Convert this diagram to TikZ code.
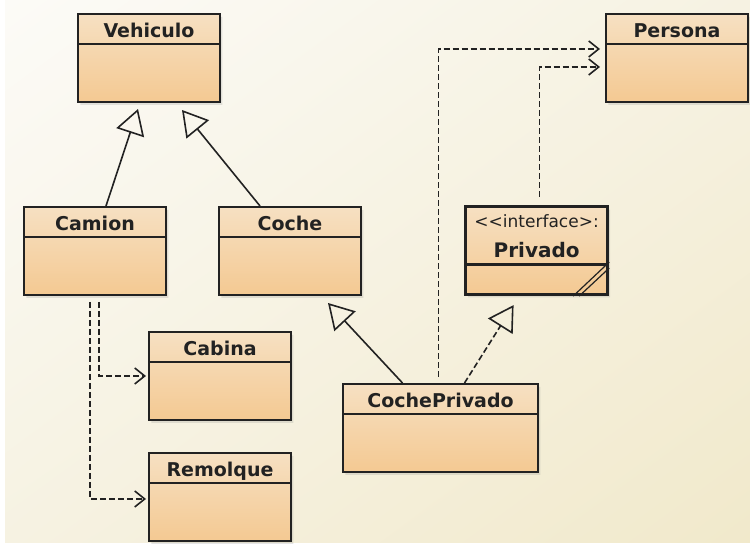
\documentclass[tikz,border=0pt]{standalone}
\usepackage{fontspec}
\usepackage{tikz}
\usepackage{xcolor}
\usetikzlibrary{arrows.meta,shapes.multipart,shadows,shadings}

\newfontfamily\clasefont{DejaVu Sans}
\definecolor{cajaarriba}{RGB}{246,224,194}
\definecolor{cajaabajo}{RGB}{244,201,146}
\definecolor{fondoA}{RGB}{252,251,247}
\definecolor{fondoB}{RGB}{241,233,203}
\definecolor{fondoM}{RGB}{246,242,226}
\definecolor{linea}{RGB}{34,34,34}

\newcommand{\titulo}[1]{\rule[-2.75pt]{0pt}{14pt}#1}
\newcommand{\cuerpo}{\rule{0pt}{28pt}}

\begin{document}
\begin{tikzpicture}[x=0.5pt,y=-0.5pt,
    clase/.style={rectangle split, rectangle split parts=2, draw=linea, line width=1pt,
        top color=cajaarriba, bottom color=cajaabajo, anchor=north west,
        text width=#1, align=center, inner xsep=3pt, inner ysep=0pt, text=linea,
        font=\clasefont\bfseries\fontsize{9.5}{11}\selectfont,
        drop shadow={opacity=0.2, shadow xshift=1.2pt, shadow yshift=-1.5pt}},
    clase/.default=65pt,
    hereda/.style={draw=linea, line width=0.8pt, -{Triangle[open, length=12.5pt, width=14.5pt]}},
    realiza/.style={hereda, dash pattern=on 3pt off 1.5pt},
    usa/.style={draw=linea, line width=0.8pt, dash pattern=on 3pt off 1.5pt,
        -{Straight Barb[length=5pt, width=8pt]}}]

    \useasboundingbox (0,0) rectangle (750,549);
    \fill[white] (0,0) rectangle (750,549);
    \shade[upper left=fondoA, upper right=fondoM, lower left=fondoM, lower right=fondoB]
        (5,0) rectangle (750,543);

    \node[clase] (Vehiculo) at (77,13) {\titulo{Vehiculo}\nodepart{second}\cuerpo};
    \node[clase] (Persona) at (605,13) {\titulo{Persona}\nodepart{second}\cuerpo};
    \node[clase] (Camion) at (23,206) {\titulo{Camion}\nodepart{second}\cuerpo};
    \node[clase] (Coche) at (218,206) {\titulo{Coche}\nodepart{second}\cuerpo};
    \node[clase, line width=1.6pt] (Privado) at (464,205)
        {\rule[-2.75pt]{0pt}{27.25pt}%
         \makebox[0pt]{\raisebox{14.8pt}[0pt][0pt]{\fontsize{8.5}{10}\selectfont\mdseries <{}<interface>:}}%
         \makebox[0pt]{\fontsize{10}{12}\selectfont Privado}%
         \nodepart{second}\rule{0pt}{13.5pt}};
    \node[clase] (Cabina) at (148,331) {\titulo{Cabina}\nodepart{second}\cuerpo};
    \node[clase] (Remolque) at (148,452) {\titulo{Remolque}\nodepart{second}\cuerpo};
    \node[clase=91.5pt] (CochePrivado) at (342,383) {\titulo{CochePrivado}\nodepart{second}\cuerpo};

    % marca de interfaz
    \draw[linea, line width=0.6pt] ([xshift=-18pt]Privado.south east) -- ([yshift=17pt]Privado.south east);
    \draw[linea, line width=0.6pt] ([xshift=-15pt]Privado.south east) -- ([yshift=14pt]Privado.south east);

    \draw[hereda] ([xshift=5.5pt]Camion.north) -- ([xshift=-5.5pt,yshift=-3pt]Vehiculo.south);
    \draw[hereda] ([xshift=-15pt]Coche.north) -- ([xshift=16.5pt,yshift=-3.5pt]Vehiculo.south);
    \draw[hereda] ([xshift=-19pt]CochePrivado.north) -- ([xshift=19pt,yshift=-3.5pt]Coche.south);
    \draw[realiza] ([xshift=12pt]CochePrivado.north) -- ([xshift=-11.5pt,yshift=-4.5pt]Privado.south);

    \draw[usa] ([xshift=-1pt,yshift=3pt]CochePrivado.north) |- ([xshift=-2.5pt,yshift=4.5pt]Persona.west);
    \draw[usa] ([xshift=1.5pt,yshift=4pt]Privado.north) |- ([xshift=-2.5pt,yshift=-4.5pt]Persona.west);
    \draw[usa] ([xshift=2pt,yshift=-3pt]Camion.south) |- ([xshift=-1pt]Cabina.west);
    \draw[usa] ([xshift=-2.5pt,yshift=-3pt]Camion.south) |- ([xshift=-1pt,yshift=-1pt]Remolque.west);
\end{tikzpicture}
\end{document}
